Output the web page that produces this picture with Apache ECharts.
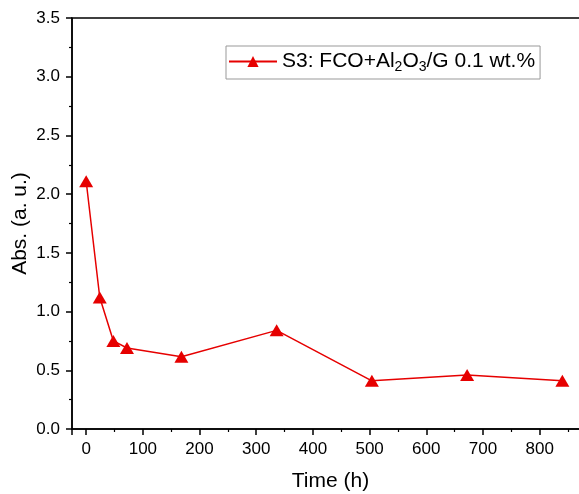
<!DOCTYPE html>
<html>
<head>
<meta charset="utf-8">
<script src="https://cdn.jsdelivr.net/npm/echarts@6/dist/echarts.min.js"></script>
<style>
  html, body { margin: 0; padding: 0; background: #fff; }
  #chart { width: 579px; height: 494px; }
</style>
</head>
<body>
<div id="chart"></div>
<script>
// time (h) and absorbance
var timeH = [0, 24, 48, 72, 168, 336, 504, 672, 840];
var absVals = [2.11, 1.12, 0.75, 0.69, 0.615, 0.84, 0.41, 0.46, 0.41];
var seriesName = "S3: FCO+Al2O3/G 0.1 wt.%";

var points = [];
for (var i = 0; i < timeH.length; ++i) {
    points.push([timeH[i], absVals[i]]);
}

var font = "Liberation Sans, Arial, sans-serif";
var red = "#e60000";

var option = {
    animation: false,
    grid: {
        left: 72, right: -10, top: 18, bottom: 65,
        outerBoundsMode: "none",
        show: true, borderColor: "#000", borderWidth: 1.5
    },
    legend: {
        data: [seriesName],
        left: 226, top: 46,
        padding: [5, 5, 5, 2],
        borderColor: "#999", borderWidth: 1,
        itemWidth: 48, itemHeight: 14, itemGap: 6,
        formatter: function () {
            return "{n|S3: FCO+Al}{s|2}{n|O}{s|3}{n|/G 0.1 wt.%}";
        },
        textStyle: {
            fontFamily: font,
            rich: {
                n: { fontSize: 21, fontFamily: font, color: "#000" },
                s: { fontSize: 14, fontFamily: font, color: "#000", padding: [11, 0, 0, 0] }
            }
        }
    },
    xAxis: {
        type: "value",
        min: -25, max: 887,
        splitNumber: 9,
        name: "Time (h)",
        nameLocation: "middle",
        nameGap: 42,
        nameTextStyle: { fontFamily: font, fontSize: 21, color: "#000" },
        axisLine: { lineStyle: { color: "#000", width: 1.5 } },
        axisTick: { length: 6, lineStyle: { color: "#000", width: 1.5 } },
        minorTick: { show: true, splitNumber: 2, length: 3, lineStyle: { color: "#000", width: 1.2 } },
        splitLine: { show: false },
        axisLabel: {
            fontFamily: font, fontSize: 17, color: "#000", margin: 12,
            formatter: function (v) { return v % 100 === 0 ? String(v) : ""; }
        }
    },
    yAxis: {
        type: "value",
        min: 0, max: 3.5, interval: 0.5,
        name: "Abs. (a. u.)",
        nameLocation: "middle",
        nameGap: 41,
        nameMoveOverlap: false,
        nameTextStyle: { fontFamily: font, fontSize: 21, color: "#000" },
        axisLine: { onZero: false, lineStyle: { color: "#000", width: 1.5 } },
        axisTick: { length: 6, lineStyle: { color: "#000", width: 1.5 } },
        minorTick: { show: true, splitNumber: 2, length: 3, lineStyle: { color: "#000", width: 1.2 } },
        splitLine: { show: false },
        axisLabel: {
            fontFamily: font, fontSize: 17, color: "#000", margin: 12,
            formatter: function (v) { return v.toFixed(1); }
        }
    },
    series: [{
        name: seriesName,
        type: "line",
        data: points,
        symbol: "triangle",
        symbolSize: [14, 12],
        lineStyle: { color: red, width: 1.5 },
        itemStyle: { color: red }
    }]
};

echarts.init(document.getElementById("chart")).setOption(option);
</script>
</body>
</html>
